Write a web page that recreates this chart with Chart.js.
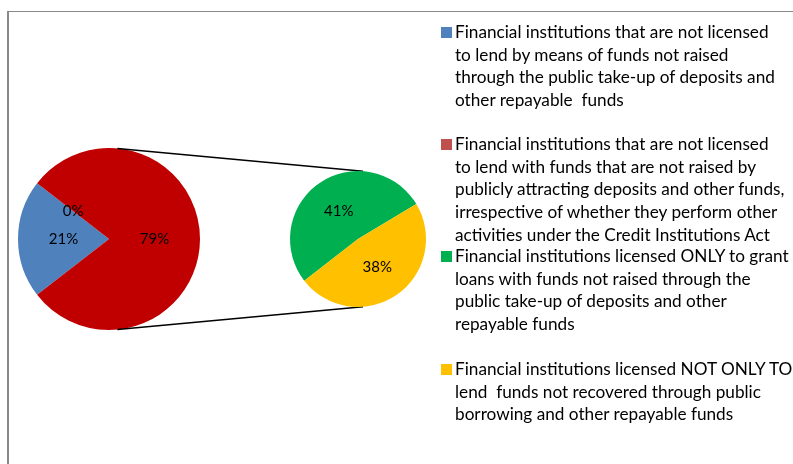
<!DOCTYPE html>
<html>
<head>
<meta charset="utf-8">
<script src="https://cdn.jsdelivr.net/npm/chart.js@4.4.1/dist/chart.umd.min.js"></script>
<style>
  html, body { margin: 0; padding: 0; background: #fff; }
  body { width: 793px; height: 464px; position: relative; overflow: hidden; font-family: Lato, "Open Sans", sans-serif; }
  #frame { position: absolute; left: 7px; top: 11px; width: 800px; height: 470px; border-left: 2px solid #898989; border-top: 1px solid #898989; }
  canvas { position: absolute; left: 0; top: 0; }
  .entry { position: absolute; left: 441px; font-size: 17.2px; line-height: 22.7px; color: #000; white-space: pre; }
  .entry .sw { position: absolute; left: 0; top: 6px; width: 11px; height: 11px; }
  .entry .txt { position: absolute; left: 14px; top: 0; }
</style>
</head>
<body>
<div id="frame"></div>
<canvas id="mainPie" width="793" height="464"></canvas>
<canvas id="subPie" width="793" height="464"></canvas>
<div id="legend"></div>
<script>
// pie of pie: first pie holds the blue slice, the (empty) red one and the "other" part split out on the right
const mainLabels = ['Not licensed, funds not raised from the public', 'Not licensed, irrespective of other activities', 'Other'];
const mainValues = [21, 0, 79];
const mainColors = ['#4F81BD', '#C0504D', '#C00000'];

const subLabels = ['Licensed ONLY to grant loans', 'Licensed NOT ONLY TO lend'];
const subValues = [41, 38];
const subColors = ['#00B050', '#FFC000'];

// legend text, line by line as in the original
const legendColors = ['#4F81BD', '#C0504D', '#00B050', '#FFC000'];
const legendTops = [21, 133, 245, 358];
const legendLines = [
    ['Financial institutions that are not licensed', 'to lend by means of funds not raised', 'through the public take-up of deposits and', 'other repayable  funds'],
    ['Financial institutions that are not licensed', 'to lend with funds that are not raised by', 'publicly attracting deposits and other funds,', 'irrespective of whether they perform other', 'activities under the Credit Institutions Act'],
    ['Financial institutions licensed ONLY to grant', 'loans with funds not raised through the', 'public take-up of deposits and other', 'repayable funds'],
    ['Financial institutions licensed NOT ONLY TO', 'lend  funds not recovered through public', 'borrowing and other repayable funds']
];

const W = 793, H = 464;
const rotation = 232.2;

// percent labels in the middle of each slice
const pctLabels = {
    id: 'pctLabels',
    afterDatasetsDraw(chart) {
        const ctx = chart.ctx;
        const meta = chart.getDatasetMeta(0);
        ctx.save();
        ctx.font = '15px Lato';
        ctx.fillStyle = '#000';
        ctx.textAlign = 'center';
        ctx.textBaseline = 'middle';
        meta.data.forEach((arc, i) => {
            const p = arc.getCenterPoint();
            ctx.fillText(chart.data.datasets[0].data[i] + '%', p.x, p.y);
        });
        ctx.restore();
    }
};

function pieOptions(pad) {
    return {
        responsive: false,
        animation: false,
        rotation: rotation,
        layout: { padding: pad },
        plugins: { legend: { display: false }, tooltip: { enabled: false } }
    };
}

const mainChart = new Chart(document.getElementById('mainPie'), {
    type: 'pie',
    data: {
        labels: mainLabels,
        datasets: [{ data: mainValues, backgroundColor: mainColors, borderWidth: 0 }]
    },
    options: pieOptions({ left: 18, top: 148, right: W - 200, bottom: H - 330 }),
    plugins: [pctLabels]
});

// lines joining the two pies
const connectors = {
    id: 'connectors',
    beforeDatasetsDraw(chart) {
        const a = mainChart.getDatasetMeta(0).data[0];
        const b = chart.getDatasetMeta(0).data[0];
        const ctx = chart.ctx;
        const t1 = -84.7 * Math.PI / 180, t2 = -85.8 * Math.PI / 180;
        ctx.save();
        ctx.strokeStyle = '#000';
        ctx.lineWidth = 1.5;
        [1, -1].forEach(s => {
            ctx.beginPath();
            ctx.moveTo(a.x + a.outerRadius * Math.cos(t1), a.y + s * a.outerRadius * Math.sin(t1));
            ctx.lineTo(b.x + b.outerRadius * Math.cos(t2), b.y + s * b.outerRadius * Math.sin(t2));
            ctx.stroke();
        });
        ctx.restore();
    }
};

new Chart(document.getElementById('subPie'), {
    type: 'pie',
    data: {
        labels: subLabels,
        datasets: [{ data: subValues, backgroundColor: subColors, borderWidth: 0 }]
    },
    options: pieOptions({ left: 290, top: 171, right: W - 426, bottom: H - 307 }),
    plugins: [connectors, pctLabels]
});

// legend
const legend = document.getElementById('legend');
legendLines.forEach((lines, i) => {
    const entry = document.createElement('div');
    entry.className = 'entry';
    entry.style.top = legendTops[i] + 'px';
    const sw = document.createElement('div');
    sw.className = 'sw';
    sw.style.background = legendColors[i];
    const txt = document.createElement('div');
    txt.className = 'txt';
    lines.forEach(l => {
        const d = document.createElement('div');
        d.textContent = l;
        txt.appendChild(d);
    });
    entry.appendChild(sw);
    entry.appendChild(txt);
    legend.appendChild(entry);
});
</script>
</body>
</html>
